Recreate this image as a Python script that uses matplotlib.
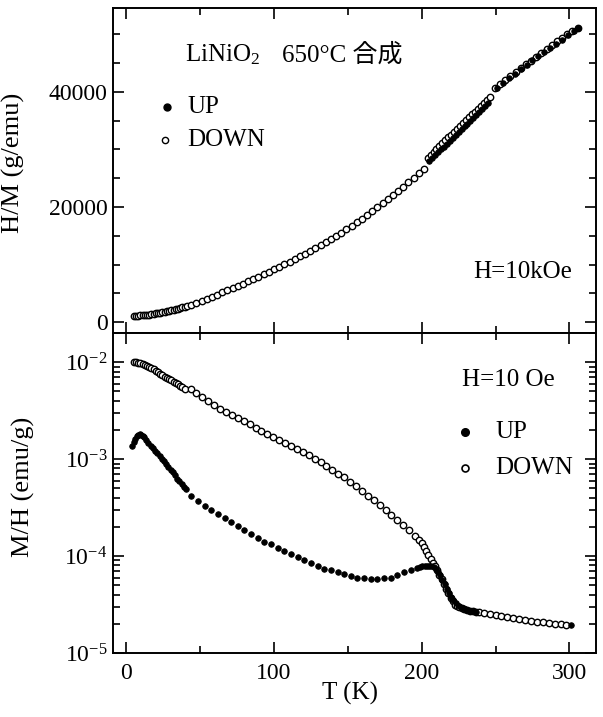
import matplotlib
matplotlib.use('Agg')
import matplotlib.pyplot as plt
from matplotlib.ticker import MultipleLocator, LogLocator, NullFormatter

# ---- data ----
# upper panel: H/M (g/emu), H = 10 kOe
T_hm_down = [5, 6.5, 8, 9.5, 11, 12.5, 14, 15.5, 17, 18.5, 20, 21.5, 23, 24.5, 26,
             27.5, 29, 30.5, 32, 33.5, 35, 36.5, 38, 39.5, 41,
             44, 47.5, 51, 54.5, 58, 61.5, 65, 68.5, 72, 75.5, 79, 82.5, 86, 89.5,
             93, 96.5, 100, 103.5, 107, 110.5, 114, 117.5, 121, 124.5, 128, 131.5,
             135, 138.5, 142, 145.5, 149, 152.5, 156, 159.5, 163, 166.5, 170, 173.5,
             177, 180.5, 184, 187.5, 191, 194.5, 198, 201.5,
             204, 206, 208, 210, 212, 214, 216, 218, 220, 222, 224, 226, 228, 230,
             232, 234, 236, 238, 240, 242, 244, 246,
             249.5, 253, 256.5, 260, 263.5, 267, 270.5, 274, 277.5, 281, 284.5, 288,
             291.5, 295, 298.5, 302, 305.5]
hm_down = [1050, 1100, 1120, 1150, 1180, 1220, 1260, 1310, 1370, 1430, 1500, 1570,
           1650, 1730, 1810, 1890, 1980, 2070, 2160, 2250, 2350, 2450, 2550, 2650, 2750,
           2950, 3310, 3670, 4030, 4400, 4770, 5150, 5530, 5910, 6300, 6690, 7090,
           7490, 7900, 8310, 8730, 9150, 9580, 10020, 10470, 10930, 11400, 11880,
           12370, 12870, 13380, 13900, 14440, 14990, 15560, 16140, 16740, 17350,
           17980, 18620, 19280, 19950, 20640, 21340, 22060, 22790, 23540, 24300,
           25080, 25870, 26680,
           28600, 29100, 29600, 30100, 30600, 31100, 31600, 32100, 32600, 33100,
           33600, 34100, 34600, 35100, 35600, 36100, 36600, 37100, 37600, 38100,
           38600, 39100,
           40600, 41400, 42100, 42800, 43500, 44150, 44800, 45450, 46100, 46700,
           47500, 48150, 48800, 49400, 50000, 50600, 51200]

T_hm_up = [205, 207, 209, 211, 213, 215, 217, 219, 221, 223, 225, 227, 229, 231, 233,
           235, 237, 239, 241, 243, 245,
           251, 255, 259, 263, 267, 271, 275, 279, 283, 287, 291, 295, 299, 303, 306]
hm_up = [28000, 28500, 29000, 29500, 30000, 30500, 31000, 31500, 32000, 32500, 33000,
         33500, 34000, 34500, 35000, 35500, 36000, 36500, 37000, 37500, 38000,
         40700, 41600, 42400, 43200, 44000, 44700, 45500, 46200, 46900, 47700, 48400,
         49100, 49900, 50600, 51100]

# lower panel: M/H (emu/g), H = 10 Oe
T_mh_down = [5, 6.5, 8, 9.5, 11, 12.5, 14, 15.5, 17, 18.5, 20, 21.5, 23, 24.5, 26,
             27.5, 29, 30.5, 32, 33.5, 35, 36.5, 38, 39.5,
             43.5, 47.5, 51.5, 55.5, 59.5, 63.5, 67.5, 71.5, 75.5, 79.5, 83.5, 87.5,
             91.5, 95.5, 99.5, 103.5, 107.5, 111.5, 115.5, 119.5, 123.5, 127.5, 131.5,
             135.5, 139.5, 143.5, 147.5, 151.5, 155.5, 159.5, 163.5, 167.5, 171.5,
             175.5, 179.5, 183.5, 187.5, 191.5, 195.5,
             198.5, 200, 201.5, 203, 204.5, 206, 207.5, 209, 210.5, 212, 213.5, 215,
             216.5, 218, 219.5, 221, 222.5, 224, 225.5, 227, 228.5, 230.5, 232.5,
             234.5, 236.5, 238.5,
             242, 246, 250, 254, 258, 262, 266, 270, 274, 278, 282, 286, 290, 294, 298]
mh_down = [1.00e-2, 1.00e-2, 9.9e-3, 9.8e-3, 9.6e-3, 9.4e-3, 9.2e-3, 8.9e-3, 8.7e-3,
           8.4e-3, 8.1e-3, 7.9e-3, 7.6e-3, 7.4e-3, 7.1e-3, 6.9e-3, 6.7e-3, 6.5e-3,
           6.3e-3, 6.1e-3, 5.9e-3, 5.7e-3, 5.5e-3, 5.3e-3,
           5.25e-3, 4.79e-3, 4.37e-3, 3.98e-3, 3.63e-3, 3.31e-3, 3.09e-3, 2.88e-3,
           2.63e-3, 2.45e-3, 2.29e-3, 2.09e-3, 1.95e-3, 1.82e-3, 1.70e-3, 1.58e-3,
           1.45e-3, 1.35e-3, 1.26e-3, 1.17e-3, 1.10e-3, 1.00e-3, 9.33e-4, 8.51e-4,
           7.76e-4, 7.08e-4, 6.46e-4, 5.75e-4, 5.25e-4, 4.68e-4, 4.17e-4, 3.80e-4,
           3.39e-4, 2.95e-4, 2.63e-4, 2.34e-4, 2.09e-4, 1.86e-4, 1.62e-4,
           1.45e-4, 1.35e-4, 1.23e-4, 1.12e-4, 1.02e-4, 9.3e-5, 8.5e-5, 7.8e-5,
           7.1e-5, 6.3e-5, 5.75e-5, 5.1e-5, 4.6e-5, 4.2e-5, 3.7e-5, 3.4e-5, 3.16e-5,
           3.02e-5, 2.95e-5, 2.88e-5, 2.82e-5, 2.75e-5, 2.72e-5, 2.69e-5, 2.66e-5,
           2.63e-5,
           2.57e-5, 2.51e-5, 2.45e-5, 2.40e-5, 2.34e-5, 2.29e-5, 2.24e-5, 2.19e-5,
           2.14e-5, 2.09e-5, 2.07e-5, 2.04e-5, 2.00e-5, 1.97e-5, 1.95e-5]

T_mh_up = [4, 5, 6, 7, 8, 9, 10, 11, 12, 13.5, 15, 16.5, 18, 19.5, 21, 22.5, 24, 25.5,
           27, 28.5, 30, 31.5, 33, 34.5, 36, 37.5, 39, 40.5,
           44, 48.5, 53, 57.5, 62, 66.5, 71, 75.5, 80, 84.5, 89, 93.5, 98, 102.5, 107,
           111.5, 116, 120.5, 125, 129.5, 134, 138.5, 143, 147.5, 152, 156.5, 161,
           165.5, 170, 174.5, 179, 183.5, 188, 192.5, 197,
           199, 200.5, 202, 203.5, 205, 206.5, 208, 209.5, 211, 212.5, 214, 215.5,
           217, 218.5, 220, 221.5, 223, 225, 227, 229, 231, 233, 235, 237,
           301]
mh_up = [1.35e-3, 1.50e-3, 1.62e-3, 1.72e-3, 1.78e-3, 1.80e-3, 1.79e-3, 1.74e-3,
         1.68e-3, 1.58e-3, 1.48e-3, 1.38e-3, 1.30e-3, 1.22e-3, 1.15e-3, 1.08e-3,
         1.01e-3, 9.5e-4, 8.9e-4, 8.3e-4, 7.8e-4, 7.3e-4, 6.8e-4, 6.3e-4, 5.9e-4,
         5.5e-4, 5.2e-4, 4.9e-4,
         4.17e-4, 3.72e-4, 3.31e-4, 2.95e-4, 2.69e-4, 2.45e-4, 2.24e-4, 2.04e-4,
         1.86e-4, 1.70e-4, 1.55e-4, 1.41e-4, 1.32e-4, 1.20e-4, 1.12e-4, 1.05e-4,
         9.8e-5, 9.1e-5, 8.5e-5, 7.9e-5, 7.4e-5, 7.1e-5, 6.8e-5, 6.5e-5, 6.2e-5,
         6.0e-5, 5.9e-5, 5.8e-5, 5.8e-5, 5.9e-5, 6.0e-5, 6.3e-5, 6.8e-5, 7.2e-5,
         7.6e-5,
         7.7e-5, 7.8e-5, 7.8e-5, 7.8e-5, 7.8e-5, 7.8e-5, 7.7e-5, 7.4e-5, 6.9e-5,
         6.3e-5, 5.7e-5, 5.1e-5, 4.6e-5, 4.2e-5, 3.8e-5, 3.5e-5, 3.25e-5, 3.05e-5,
         2.93e-5, 2.85e-5, 2.78e-5, 2.73e-5, 2.68e-5, 2.64e-5,
         1.95e-5]

# ---- figure ----
plt.rcParams['font.family'] = ['Liberation Serif', 'Noto Sans CJK JP']
plt.rcParams['mathtext.fontset'] = 'custom'
plt.rcParams['mathtext.rm'] = 'Liberation Serif'
plt.rcParams['mathtext.it'] = 'Liberation Serif:italic'
plt.rcParams['axes.linewidth'] = 1.4

fig = plt.figure(figsize=(6.03, 7.17), dpi=100)
ax1 = fig.add_axes([0.1874, 0.5356, 0.801, 0.4533])
ax2 = fig.add_axes([0.1874, 0.0893, 0.801, 0.4463])

open_style = dict(ls='none', marker='o', mfc='white', mec='black', ms=4.6, mew=1.0)
fill_style = dict(ls='none', marker='o', mfc='black', mec='black', ms=4.0, mew=0.6)

ax1.plot(T_hm_down, hm_down, **open_style)
ax1.plot(T_hm_up, hm_up, **fill_style)
ax2.plot(T_mh_down, mh_down, **open_style)
ax2.plot(T_mh_up, mh_up, **fill_style)

ax1.set_xlim(-9, 318)
ax1.set_ylim(-1900, 54600)
ax2.set_xlim(-9, 318)
ax2.set_yscale('log')
ax2.set_ylim(1e-5, 2e-2)

for ax in (ax1, ax2):
    ax.xaxis.set_major_locator(MultipleLocator(100))
    ax.xaxis.set_minor_locator(MultipleLocator(50))
    ax.tick_params(which='both', direction='in', top=True, right=True,
                   labelsize=17, width=1.2)
    ax.tick_params(which='major', length=8)
    ax.tick_params(which='minor', length=5)

ax1.yaxis.set_major_locator(MultipleLocator(20000))
ax1.yaxis.set_minor_locator(MultipleLocator(5000))
ax1.tick_params(labelbottom=False)
ax1.tick_params(axis='y', pad=4)

ax2.yaxis.set_major_locator(LogLocator(base=10, numticks=10))
ax2.yaxis.set_minor_locator(LogLocator(base=10, subs=range(2, 10), numticks=20))
ax2.yaxis.set_minor_formatter(NullFormatter())
ax2.tick_params(axis='x', pad=7)
ax2.tick_params(axis='y', pad=4)

ax1.set_ylabel('H/M (g/emu)', fontsize=19)
ax1.yaxis.set_label_coords(-0.182, 0.523)
ax2.set_ylabel('M/H (emu/g)', fontsize=19)
ax2.yaxis.set_label_coords(-0.161, 0.519)
ax2.set_xlabel('T (K)', fontsize=18)
ax2.xaxis.set_label_coords(0.49, -0.128)
ax2.xaxis.label.set_va('center')

# upper panel annotations
ax1.text(0.149, 0.855, 'LiNiO$_2$', transform=ax1.transAxes, fontsize=18,
         ha='left', va='center')
ax1.text(0.350, 0.855, '650°C 合成', transform=ax1.transAxes, fontsize=18,
         ha='left', va='center')
ax1.plot([0.112], [0.695], transform=ax1.transAxes, ls='none', marker='o',
         mfc='black', mec='black', ms=5)
ax1.text(0.155, 0.695, 'UP', transform=ax1.transAxes, fontsize=18,
         ha='left', va='center')
ax1.plot([0.108], [0.594], transform=ax1.transAxes, ls='none', marker='o',
         mfc='white', mec='black', ms=4.5, mew=1.0)
ax1.text(0.153, 0.594, 'DOWN', transform=ax1.transAxes, fontsize=18,
         ha='left', va='center')
ax1.text(0.950, 0.188, 'H=10kOe', transform=ax1.transAxes, fontsize=18,
         ha='right', va='center')

# lower panel annotations
ax2.text(0.723, 0.853, 'H=10 Oe', transform=ax2.transAxes, fontsize=18,
         ha='left', va='center')
ax2.plot([0.729], [0.691], transform=ax2.transAxes, ls='none', marker='o',
         mfc='black', mec='black', ms=5.5)
ax2.text(0.791, 0.691, 'UP', transform=ax2.transAxes, fontsize=18,
         ha='left', va='center')
ax2.plot([0.729], [0.578], transform=ax2.transAxes, ls='none', marker='o',
         mfc='white', mec='black', ms=5, mew=1.2)
ax2.text(0.791, 0.578, 'DOWN', transform=ax2.transAxes, fontsize=18,
         ha='left', va='center')

fig.savefig('out.png', dpi=100)
